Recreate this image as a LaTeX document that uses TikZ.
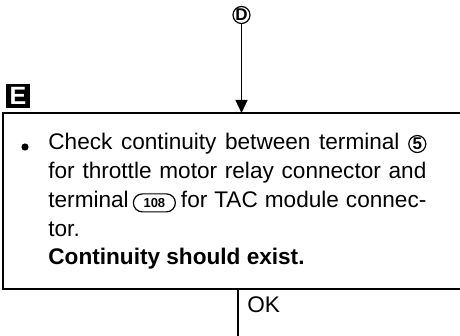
\documentclass[tikz,border=0pt]{standalone}
\usepackage{fontspec}
\setmainfont{Liberation Sans}
\usetikzlibrary{positioning,arrows.meta}

% inline marks for terminal numbers
\newcommand{\termnum}[1]{\tikz[baseline=(tn.base)]\node[text width=,align=center,circle,draw,line width=0.6pt,inner sep=0pt,minimum size=8.5pt,font=\bfseries\fontsize{8.5}{8.5}\selectfont](tn){#1};}
\newcommand{\pinbox}[1]{\tikz[baseline=(pb.base)]\node[text width=,align=center,draw,line width=0.6pt,rounded corners=4.5pt,inner sep=0pt,minimum width=21pt,minimum height=9pt,font=\bfseries\fontsize{6.5}{7}\selectfont](pb){#1};}

\begin{document}
\begin{tikzpicture}[x=0.5pt,y=-0.5pt,font=\fontsize{11.3}{14.4}\selectfont,
  steptext/.style={anchor=north west,inner sep=0pt,text width=189pt,align=justify},
  tag/.style={fill=black,text=white,minimum size=12pt,inner sep=0pt,font=\bfseries\fontsize{12.5}{12.5}\selectfont},
  jump/.style={circle,draw,line width=0.6pt,inner sep=0pt,minimum size=8.5pt,font=\bfseries\fontsize{8.5}{8.5}\selectfont}]
  \useasboundingbox (0,0) rectangle (460,336);

  \node[jump] (D) at (241.5,15) {D};
  \coordinate (boxtop) at (241.5,113);
  \draw[-{Triangle[width=6pt,length=6.5pt]}, line width=0.6pt] (D) -- (boxtop);

  \node[tag] (E) at (18,96) {E};

  % step box, open to the right
  \draw[line width=0.8pt] (463,113) -| (3,289) -- (463,289);

  \node[circle,fill,inner sep=0pt,minimum size=3.6pt] (dot) at (25,147) {};
  \node[steptext] (check) at (48,133) {\hyphenpenalty=10000\tolerance=9999
    Check continuity between terminal \termnum{5}\linebreak
    for throttle motor relay connector and\linebreak
    terminal\hspace{2pt}\pinbox{108}\hspace{2.5pt}for TAC module connec-\linebreak
    tor.\newline
    \textbf{Continuity should exist.}};

  \coordinate (boxbot) at (238,289);
  \coordinate (foot) at (238,336);
  \draw[line width=0.6pt] (boxbot) -- (foot);
  \node[anchor=base west,inner sep=0pt] (ok) at (247,312) {OK};
\end{tikzpicture}
\end{document}
